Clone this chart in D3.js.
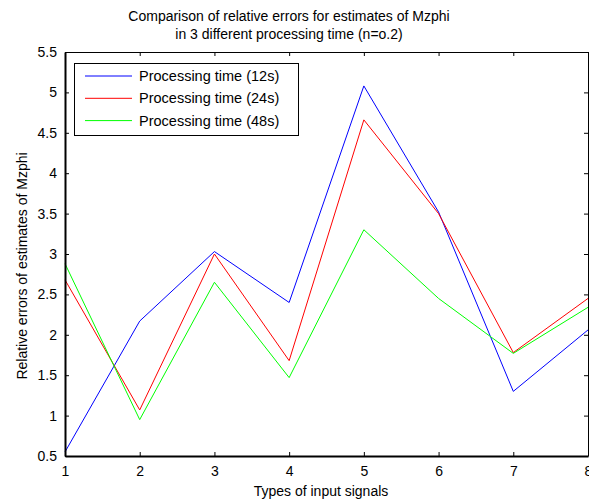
<!DOCTYPE html>
<html>
<head>
<meta charset="utf-8">
<script src="https://cdn.jsdelivr.net/npm/d3@7"></script>
<style>
  html, body { margin: 0; padding: 0; background: #fff; }
  svg { display: block; font-family: "Liberation Sans", Arial, sans-serif; }
</style>
</head>
<body>
<svg id="chart" width="589" height="502"></svg>
<script>
// Signal types on the x axis
const signalTypes = [1, 2, 3, 4, 5, 6, 7, 8];

// Relative errors per processing time
const err12s = [0.55, 2.17, 3.03, 2.40, 5.08, 3.52, 1.30, 2.06];
const err24s = [2.68, 1.07, 3.00, 1.68, 4.66, 3.50, 1.78, 2.45];
const err48s = [2.88, 0.95, 2.65, 1.47, 3.30, 2.45, 1.77, 2.34];

const seriesNames = ["Processing time (12s)", "Processing time (24s)", "Processing time (48s)"];
const seriesColors = ["#0000ff", "#ff0000", "#00ff00"];

const yTicks = [0.5, 1, 1.5, 2, 2.5, 3, 3.5, 4, 4.5, 5, 5.5];
const xTicks = [1, 2, 3, 4, 5, 6, 7, 8];

const titleLines = ["Comparison of relative errors for estimates of Mzphi",
                    "in 3 different processing time (n=o.2)"];
const xLabel = "Types of input signals";
const yLabel = "Relative errors of estimates of Mzphi";

const svg = d3.select("#chart");
const plot = { left: 65, right: 588, top: 52, bottom: 456 };

const x = d3.scaleLinear().domain([1, 8]).range([plot.left, plot.right]);
const y = d3.scaleLinear().domain([0.5, 5.5]).range([plot.bottom, plot.top]);

const fontSize = 14;
const tickLen = 4;

// Data lines
const series = [err12s, err24s, err48s];
const line = d3.line().x((d, i) => x(signalTypes[i])).y(d => y(d));
series.forEach((vals, k) => {
  svg.append("path")
    .datum(vals)
    .attr("d", line)
    .attr("fill", "none")
    .attr("stroke", seriesColors[k])
    .attr("stroke-width", 1);
});

// Axes with inward ticks (box style)
const fmt = d => String(d);
const bottomAxis = d3.axisBottom(x).tickValues(xTicks).tickFormat(fmt).tickSizeInner(-tickLen).tickSizeOuter(0).tickPadding(10);
const leftAxis = d3.axisLeft(y).tickValues(yTicks).tickFormat(fmt).tickSizeInner(-tickLen).tickSizeOuter(0).tickPadding(8);
const topAxis = d3.axisTop(x).tickValues(xTicks).tickFormat("").tickSizeInner(-tickLen).tickSizeOuter(0);
const rightAxis = d3.axisRight(y).tickValues(yTicks).tickFormat("").tickSizeInner(-tickLen).tickSizeOuter(0);

function styleAxis(g, w) {
  g.select(".domain").attr("stroke", "#000").attr("stroke-width", w);
  g.selectAll(".tick line").attr("stroke", "#000").attr("stroke-width", 1);
  g.selectAll(".tick text").attr("fill", "#000").attr("font-size", fontSize)
    .attr("font-family", "Liberation Sans, Arial, sans-serif");
}

svg.append("g").attr("transform", `translate(0,${plot.top})`).call(topAxis).call(g => styleAxis(g, 1));
svg.append("g").attr("transform", `translate(${plot.right},0)`).call(rightAxis).call(g => styleAxis(g, 1));
svg.append("g").attr("transform", `translate(0,${plot.bottom})`).call(bottomAxis).call(g => styleAxis(g, 2));
svg.append("g").attr("transform", `translate(${plot.left},0)`).call(leftAxis).call(g => styleAxis(g, 2));

// Title
svg.append("text")
  .attr("x", 289).attr("y", 21)
  .attr("text-anchor", "middle").attr("font-size", fontSize)
  .selectAll("tspan").data(titleLines).join("tspan")
  .attr("x", 289).attr("dy", (d, i) => i === 0 ? 0 : 18)
  .text(d => d);

// Axis labels
svg.append("text")
  .attr("x", 321).attr("y", 496)
  .attr("text-anchor", "middle").attr("font-size", fontSize)
  .text(xLabel);

svg.append("text")
  .attr("transform", "translate(27,266) rotate(-90)")
  .attr("text-anchor", "middle").attr("font-size", fontSize)
  .text(yLabel);

// Legend
const lg = svg.append("g");
lg.append("rect")
  .attr("x", 74.5).attr("y", 63.5).attr("width", 224).attr("height", 72)
  .attr("fill", "#fff").attr("stroke", "#000").attr("stroke-width", 1);
seriesNames.forEach((name, k) => {
  const ly = 76 + k * 22.3;
  lg.append("line")
    .attr("x1", 85).attr("x2", 132).attr("y1", ly).attr("y2", ly)
    .attr("stroke", seriesColors[k]).attr("stroke-width", 1);
  lg.append("text")
    .attr("x", 139).attr("y", ly + 5)
    .attr("font-size", fontSize + 0.5)
    .text(name);
});
</script>
</body>
</html>
